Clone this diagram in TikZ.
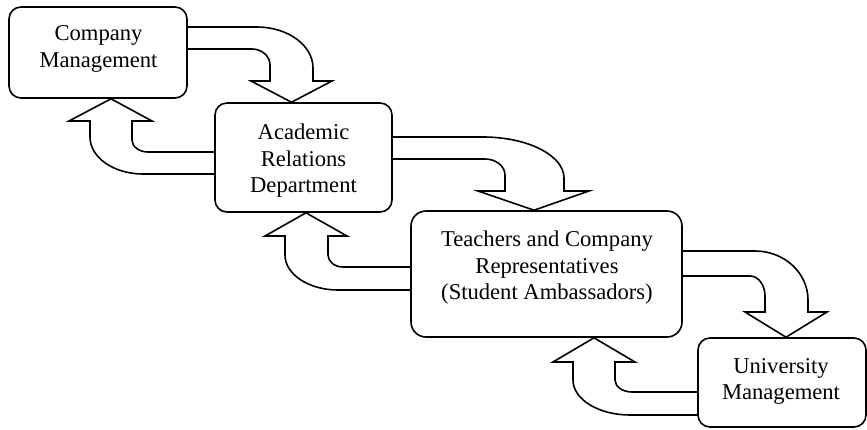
\documentclass[tikz,border=0pt]{standalone}
\usepackage{fontspec}
\setmainfont{Liberation Serif}
\newfontfamily\boxfont{Liberation Serif}
\usetikzlibrary{backgrounds}
\begin{document}
\begin{tikzpicture}[x=1pt,y=-1pt, line width=1.6pt,
  box/.style={draw, line width=1.6pt, rounded corners=12pt, fill=white, inner sep=0pt},
  txt/.style={align=center, font=\boxfont\fontsize{22.6}{26.5}\selectfont, inner sep=0pt},
  bigarrow/.style={draw, line width=1.6pt, fill=white, line join=miter, miter limit=20}]
\useasboundingbox (0,0) rectangle (867,429);

% boxes
\node[box, minimum width=178pt, minimum height=91pt] (b1) at (98,52.5) {};
\node[box, minimum width=177pt, minimum height=109pt] (b2) at (303.5,157.5) {};
\node[box, rounded corners=15pt, minimum width=271pt, minimum height=126pt] (b3) at (546.5,274) {};
\node[box, minimum width=168pt, minimum height=89pt] (b4) at (782,382.5) {};

% texts
\node[txt] (t1) at (98.5,49.2) {Company\\Management};
\node[txt] (t2) at (303.5,160.7) {Academic\\Relations\\Department};
\node[txt] (t3) at (547,268) {Teachers and Company\\Representatives\\(Student Ambassadors)};
\node[txt] (t4) at (781,381.4) {University\\Management};

\begin{scope}[on background layer]
% b1 -> b2
\draw[bigarrow] ([xshift=-4pt]b1.east |- 0,27) -- (257,27)
  .. controls (287.9,27) and (313,45.4) .. (313,68) -- (313,81) -- (332,81)
  -- (b2.north -| 291.5,0) -- (251,81) -- (270,81) -- (270,65)
  .. controls (270,56.2) and (261.9,49) .. (252,49)
  -- ([xshift=-4pt]b1.east |- 0,49) -- cycle;
% b2 -> b1
\draw[bigarrow] ([xshift=4pt]b2.west |- 0,152) -- (148,152)
  .. controls (139.2,152) and (132,146.6) .. (132,140) -- (132,121) -- (152,121)
  -- (b1.south -| 111,0) -- (69,121) -- (90,121) -- (90,137)
  .. controls (90,157.4) and (113.7,174) .. (143,174)
  -- ([xshift=4pt]b2.west |- 0,174) -- cycle;
% b2 -> b3
\draw[bigarrow] ([xshift=-4pt]b2.east |- 0,137) -- (483,137)
  .. controls (527.7,137) and (564,155.4) .. (564,178) -- (564,191) -- (589,191)
  -- (b3.north -| 534,0) -- (478,191) -- (505,191) -- (505,175)
  .. controls (505,166.2) and (496,159) .. (485,159)
  -- ([xshift=-4pt]b2.east |- 0,159) -- cycle;
% b3 -> b2
\draw[bigarrow] ([xshift=4pt]b3.west |- 0,267) -- (343,267)
  .. controls (334.7,267) and (328,261.6) .. (328,255) -- (328,236) -- (347,236)
  -- (b2.south -| 306,0) -- (265,236) -- (285,236) -- (285,255)
  .. controls (285,274.3) and (308.7,290) .. (338,290)
  -- ([xshift=4pt]b3.west |- 0,290) -- cycle;
% b3 -> b4
\draw[bigarrow] ([xshift=-4pt]b3.east |- 0,251) -- (755,251)
  .. controls (784.3,251) and (808,272.9) .. (808,300) -- (808,312) -- (827,312)
  -- (b4.north -| 786,0) -- (745,312) -- (765,312) -- (765,296)
  .. controls (765,285) and (758.3,276) .. (750,276)
  -- ([xshift=-4pt]b3.east |- 0,276) -- cycle;
% b4 -> b3
\draw[bigarrow] ([xshift=4pt]b4.west |- 0,392) -- (632,392)
  .. controls (622.6,392) and (615,386.6) .. (615,380) -- (615,362) -- (635,362)
  -- (b3.south -| 594,0) -- (553,362) -- (573,362) -- (573,380)
  .. controls (573,399.3) and (598.5,415) .. (630,415)
  -- ([xshift=4pt]b4.west |- 0,415) -- cycle;
\end{scope}
\end{tikzpicture}
\end{document}
